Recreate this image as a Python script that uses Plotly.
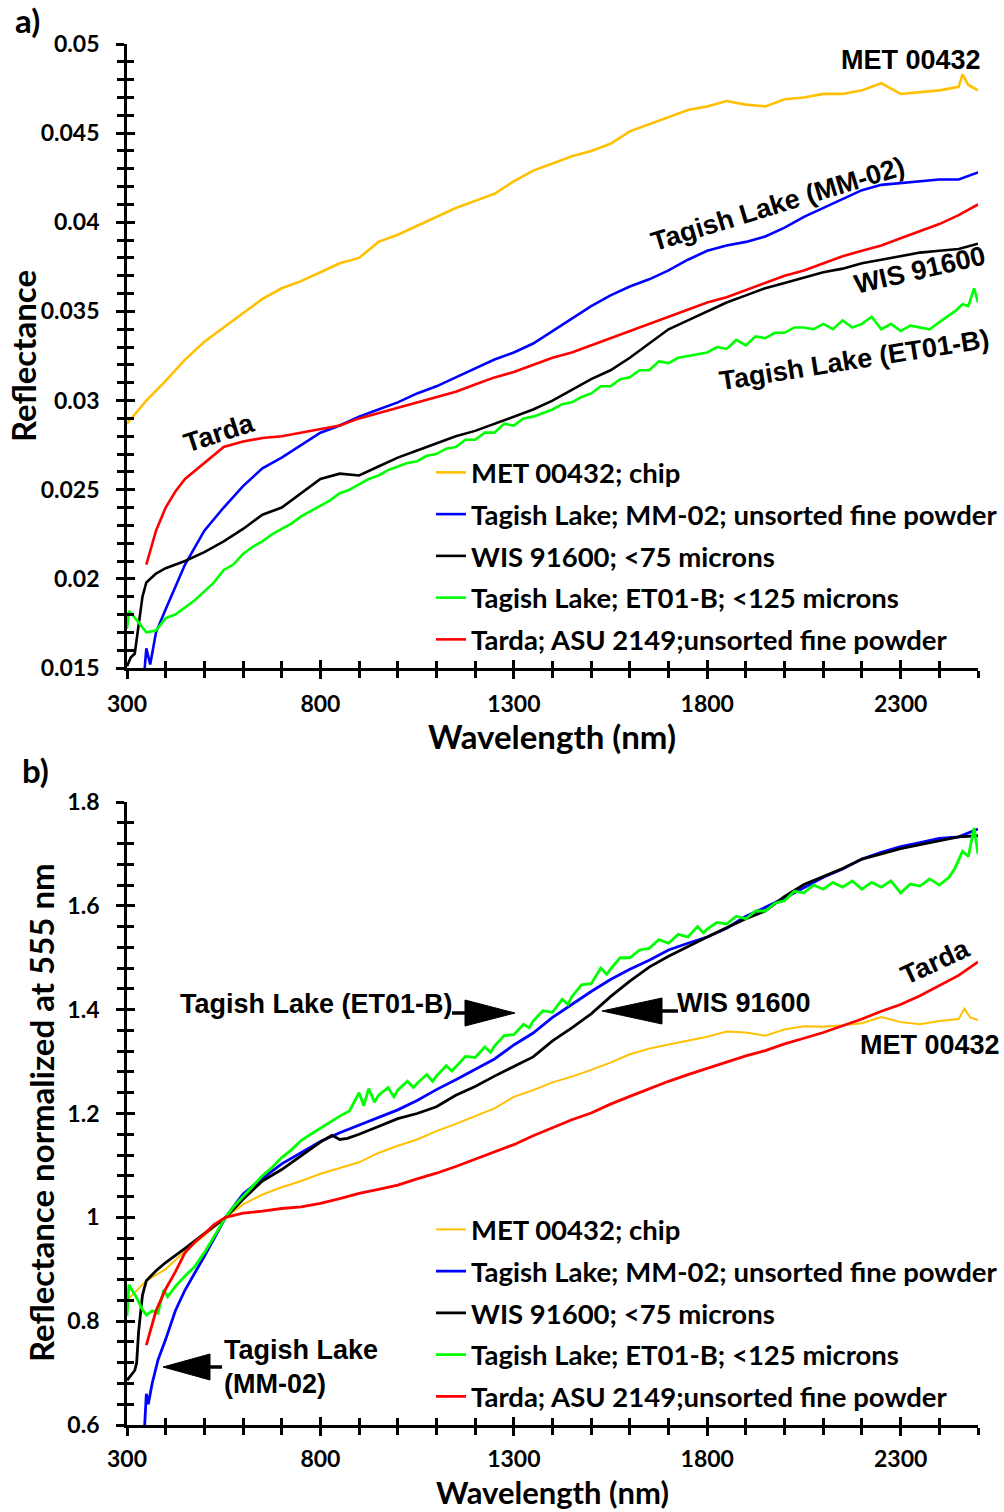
import plotly.graph_objects as go

# ---------------- DATA ----------------
# Panel a) absolute reflectance
met_wl = [300, 350, 400, 450, 500, 550, 600, 650, 700, 750, 800, 850, 900, 950, 1000, 1050, 1100, 1150, 1200,
          1250, 1300, 1350, 1400, 1450, 1500, 1550, 1600, 1650, 1700, 1750, 1800, 1850, 1900, 1950, 2000, 2050,
          2100, 2150, 2200, 2250, 2300, 2350, 2400, 2450, 2460, 2475, 2500]
met_a = [0.0287, 0.0300, 0.0311, 0.0323, 0.0333, 0.0341, 0.0349, 0.0357, 0.0363, 0.0367, 0.0372, 0.0377, 0.0380,
         0.0389, 0.0393, 0.0398, 0.0403, 0.0408, 0.0412, 0.0416, 0.0423, 0.0429, 0.0433, 0.0437, 0.0440, 0.0444,
         0.0451, 0.0455, 0.0459, 0.0463, 0.0465, 0.0468, 0.0466, 0.0465, 0.0469, 0.0470, 0.0472, 0.0472, 0.0474,
         0.0478, 0.0472, 0.0473, 0.0474, 0.0476, 0.0483, 0.0477, 0.0474]

mm02_wl = [345, 350, 360, 375, 400, 450, 500, 550, 600, 650, 700, 750, 800, 850, 900, 950, 1000, 1050, 1100, 1150,
           1200, 1250, 1300, 1350, 1400, 1450, 1500, 1550, 1600, 1650, 1700, 1750, 1800, 1850, 1900, 1950, 2000,
           2050, 2100, 2150, 2200, 2250, 2300, 2350, 2400, 2450, 2500]
mm02_a = [0.0148, 0.0161, 0.0152, 0.0170, 0.0183, 0.0208, 0.0227, 0.0240, 0.0252, 0.0262, 0.0268, 0.0275, 0.0282,
          0.0286, 0.0291, 0.0295, 0.0299, 0.0304, 0.0308, 0.0313, 0.0318, 0.0323, 0.0327, 0.0332, 0.0339, 0.0346,
          0.0353, 0.0359, 0.0364, 0.0368, 0.0373, 0.0379, 0.0384, 0.0387, 0.0389, 0.0392, 0.0397, 0.0403, 0.0408,
          0.0413, 0.0418, 0.0421, 0.0422, 0.0423, 0.0424, 0.0424, 0.0428]

wis_wl = [300, 310, 320, 330, 340, 350, 375, 400, 450, 500, 550, 600, 650, 700, 750, 800, 850, 900, 950, 1000, 1050,
          1100, 1150, 1200, 1250, 1300, 1350, 1400, 1450, 1500, 1550, 1600, 1650, 1700, 1750, 1800, 1850, 1900,
          1950, 2000, 2050, 2100, 2150, 2200, 2250, 2300, 2350, 2400, 2450, 2500]
wis_a = [0.0151, 0.0156, 0.0158, 0.0175, 0.0190, 0.0198, 0.0203, 0.0206, 0.0210, 0.0215, 0.0221, 0.0228, 0.0236,
         0.0240, 0.0248, 0.0256, 0.0259, 0.0258, 0.0263, 0.0268, 0.0272, 0.0276, 0.0280, 0.0283, 0.0287, 0.0291,
         0.0295, 0.0300, 0.0306, 0.0312, 0.0317, 0.0324, 0.0332, 0.0340, 0.0345, 0.0350, 0.0355, 0.0359, 0.0363,
         0.0366, 0.0369, 0.0372, 0.0374, 0.0377, 0.0379, 0.0381, 0.0383, 0.0384, 0.0385, 0.0388]

et01_wl = [300, 305, 325, 350, 375, 400, 425, 450, 475, 500, 525, 550, 575, 600, 625, 650, 675, 700, 725, 750, 775,
           800, 825, 850, 875, 900, 925, 950, 975, 1000, 1025, 1050, 1075, 1100, 1125, 1150, 1175, 1200, 1225, 1250,
           1275, 1300, 1325, 1350, 1375, 1400, 1425, 1450, 1475, 1500, 1525, 1550, 1575, 1600, 1625, 1650, 1675,
           1700, 1725, 1750, 1775, 1800, 1825, 1850, 1875, 1900, 1925, 1950, 1975, 2000, 2025, 2050, 2075, 2100,
           2125, 2150, 2175, 2200, 2225, 2250, 2275, 2300, 2325, 2350, 2375, 2400, 2425, 2440, 2460, 2475, 2490,
           2500]
et01_a = [0.0172, 0.0182, 0.0177, 0.0170, 0.0171, 0.0178, 0.0180, 0.0184, 0.0188, 0.0193, 0.0198, 0.0205, 0.0208,
          0.0214, 0.0218, 0.0221, 0.0225, 0.0228, 0.0231, 0.0235, 0.0238, 0.0241, 0.0244, 0.0248, 0.0250, 0.0253,
          0.0256, 0.0258, 0.0261, 0.0263, 0.0265, 0.0266, 0.0269, 0.0270, 0.0273, 0.0274, 0.0278, 0.0278, 0.0282,
          0.0282, 0.0287, 0.0286, 0.0290, 0.0291, 0.0293, 0.0295, 0.0298, 0.0299, 0.0302, 0.0304, 0.0308, 0.0308,
          0.0312, 0.0313, 0.0317, 0.0317, 0.0322, 0.0321, 0.0324, 0.0325, 0.0326, 0.0327, 0.0330, 0.0329, 0.0334,
          0.0331, 0.0336, 0.0335, 0.0338, 0.0338, 0.0341, 0.0341, 0.0340, 0.0343, 0.0340, 0.0345, 0.0341, 0.0343,
          0.0347, 0.0340, 0.0343, 0.0339, 0.0342, 0.0341, 0.0340, 0.0344, 0.0348, 0.0350, 0.0354, 0.0353, 0.0363,
          0.0355]

tarda_wl = [350, 375, 400, 425, 450, 500, 550, 600, 650, 700, 750, 800, 850, 900, 950, 1000, 1050, 1100, 1150, 1200,
            1250, 1300, 1350, 1400, 1450, 1500, 1550, 1600, 1650, 1700, 1750, 1800, 1850, 1900, 1950, 2000, 2050,
            2100, 2150, 2200, 2250, 2300, 2350, 2400, 2450, 2500]
tarda_a = [0.0208, 0.0227, 0.0240, 0.0249, 0.0256, 0.0265, 0.0274, 0.0277, 0.0279, 0.0280, 0.0282, 0.0284, 0.0286,
           0.0290, 0.0293, 0.0296, 0.0299, 0.0302, 0.0305, 0.0309, 0.0313, 0.0316, 0.0320, 0.0324, 0.0327, 0.0331,
           0.0335, 0.0339, 0.0343, 0.0347, 0.0351, 0.0355, 0.0358, 0.0362, 0.0366, 0.0370, 0.0373, 0.0377, 0.0381,
           0.0384, 0.0387, 0.0391, 0.0395, 0.0399, 0.0404, 0.0410]

# Panel b) reflectance normalized at 555 nm
met_b_wl = [300, 325, 350, 400, 450, 500, 555, 600, 650, 700, 750, 800, 850, 900, 950, 1000, 1050, 1100, 1150, 1200,
            1250, 1300, 1350, 1400, 1450, 1500, 1550, 1600, 1650, 1700, 1750, 1800, 1850, 1900, 1950, 2000, 2050,
            2100, 2150, 2200, 2250, 2300, 2350, 2400, 2450, 2465, 2480, 2500]
met_b = [0.840, 0.860, 0.878, 0.900, 0.935, 0.965, 1.000, 1.025, 1.044, 1.058, 1.070, 1.084, 1.095, 1.106, 1.124,
         1.138, 1.150, 1.166, 1.180, 1.195, 1.210, 1.232, 1.245, 1.260, 1.271, 1.284, 1.298, 1.314, 1.325, 1.333,
         1.340, 1.348, 1.358, 1.356, 1.350, 1.362, 1.368, 1.367, 1.370, 1.374, 1.386, 1.376, 1.372, 1.378, 1.382,
         1.402, 1.385, 1.380]

mm02_b_wl = [345, 350, 355, 365, 380, 400, 425, 450, 500, 555, 600, 650, 700, 750, 800, 850, 900, 950, 1000, 1050,
             1100, 1150, 1200, 1250, 1300, 1350, 1400, 1450, 1500, 1550, 1600, 1650, 1700, 1750, 1800, 1850, 1900,
             1950, 2000, 2050, 2100, 2150, 2200, 2250, 2300, 2350, 2400, 2450, 2500]
mm02_b = [0.59, 0.66, 0.64, 0.68, 0.725, 0.765, 0.82, 0.86, 0.925, 1.0, 1.045, 1.075, 1.103, 1.125, 1.146, 1.163,
          1.178, 1.192, 1.207, 1.225, 1.246, 1.265, 1.285, 1.305, 1.332, 1.355, 1.385, 1.410, 1.435, 1.458, 1.478,
          1.495, 1.515, 1.528, 1.540, 1.557, 1.580, 1.597, 1.615, 1.635, 1.655, 1.671, 1.690, 1.703, 1.714, 1.722,
          1.730, 1.733, 1.748]

wis_b_wl = [300, 310, 320, 325, 330, 340, 350, 375, 400, 450, 500, 555, 600, 650, 700, 750, 800, 830, 850, 870, 900,
            950, 1000, 1050, 1100, 1150, 1200, 1250, 1300, 1350, 1400, 1450, 1500, 1550, 1600, 1650, 1700, 1750,
            1800, 1850, 1900, 1950, 2000, 2050, 2100, 2150, 2200, 2250, 2300, 2350, 2400, 2450, 2500]
wis_b = [0.686, 0.695, 0.705, 0.72, 0.78, 0.85, 0.878, 0.897, 0.913, 0.940, 0.968, 1.0, 1.035, 1.07, 1.092, 1.118,
         1.145, 1.158, 1.150, 1.152, 1.160, 1.175, 1.190, 1.200, 1.213, 1.235, 1.252, 1.272, 1.290, 1.309, 1.340,
         1.365, 1.392, 1.425, 1.455, 1.482, 1.503, 1.522, 1.540, 1.558, 1.575, 1.590, 1.618, 1.641, 1.657, 1.672,
         1.690, 1.700, 1.710, 1.718, 1.725, 1.733, 1.735]

et01_b_wl = [300, 305, 325, 340, 350, 365, 380, 395, 405, 425, 450, 475, 500, 525, 555, 575, 600, 625, 650, 675, 700,
             725, 750, 775, 800, 825, 850, 875, 900, 912, 925, 940, 950, 975, 990, 1000, 1025, 1040, 1050, 1075, 1090,
             1100, 1125, 1140, 1150, 1175, 1200, 1225, 1240, 1250, 1275, 1300, 1325, 1340, 1350, 1375, 1400, 1425,
             1440, 1450, 1475, 1500, 1525, 1540, 1550, 1575, 1600, 1625, 1650, 1675, 1700, 1725, 1750, 1775, 1790,
             1800, 1825, 1850, 1875, 1900, 1925, 1950, 1975, 2000, 2025, 2050, 2075, 2100, 2125, 2150, 2175, 2200,
             2225, 2250, 2275, 2300, 2325, 2350, 2375, 2400, 2425, 2440, 2460, 2475, 2490, 2500]
et01_b = [0.81, 0.87, 0.845, 0.822, 0.812, 0.82, 0.815, 0.86, 0.847, 0.867, 0.887, 0.905, 0.932, 0.962, 1.0, 1.02,
          1.04, 1.06, 1.08, 1.096, 1.115, 1.13, 1.148, 1.16, 1.172, 1.183, 1.195, 1.205, 1.24, 1.215, 1.248, 1.222,
          1.235, 1.25, 1.232, 1.245, 1.262, 1.25, 1.258, 1.275, 1.262, 1.272, 1.292, 1.282, 1.29, 1.31, 1.308,
          1.328, 1.318, 1.33, 1.35, 1.352, 1.372, 1.365, 1.378, 1.398, 1.395, 1.42, 1.41, 1.425, 1.448, 1.45, 1.48,
          1.468, 1.478, 1.5, 1.5, 1.515, 1.518, 1.535, 1.528, 1.545, 1.54, 1.56, 1.548, 1.555, 1.568, 1.565, 1.58,
          1.575, 1.59, 1.59, 1.605, 1.61, 1.628, 1.625, 1.64, 1.632, 1.645, 1.636, 1.648, 1.632, 1.645, 1.636, 1.648,
          1.625, 1.642, 1.638, 1.652, 1.64, 1.655, 1.672, 1.705, 1.695, 1.75, 1.70]

tarda_b_wl = [350, 360, 375, 400, 425, 450, 475, 500, 525, 555, 600, 650, 700, 750, 800, 850, 900, 950, 1000, 1050,
              1100, 1150, 1200, 1250, 1300, 1350, 1400, 1450, 1500, 1550, 1600, 1650, 1700, 1750, 1800, 1850, 1900,
              1950, 2000, 2050, 2100, 2150, 2200, 2250, 2300, 2350, 2400, 2450, 2500]
tarda_b = [0.754, 0.78, 0.82, 0.862, 0.895, 0.932, 0.952, 0.968, 0.986, 1.0, 1.008, 1.012, 1.017, 1.020, 1.027,
           1.036, 1.046, 1.054, 1.062, 1.074, 1.085, 1.098, 1.112, 1.126, 1.140, 1.157, 1.173, 1.188, 1.201, 1.218,
           1.233, 1.248, 1.262, 1.275, 1.287, 1.299, 1.311, 1.321, 1.334, 1.345, 1.356, 1.369, 1.382, 1.397, 1.410,
           1.427, 1.446, 1.466, 1.492]

series_names = ["MET 00432; chip",
                "Tagish Lake; MM-02; unsorted fine powder",
                "WIS 91600; <75 microns",
                "Tagish Lake; ET01-B; <125 microns",
                "Tarda; ASU 2149;unsorted fine powder"]
series_colors = ["#FFC000", "#0000FF", "#000000", "#00FF00", "#FF0000"]

x_tickvals = [300, 800, 1300, 1800, 2300]
x_ticktext = ["300", "800", "1300", "1800", "2300"]
ya_tickvals = [0.015, 0.02, 0.025, 0.03, 0.035, 0.04, 0.045, 0.05]
ya_ticktext = ["0.015", "0.02", "0.025", "0.03", "0.035", "0.04", "0.045", "0.05"]
yb_tickvals = [0.6, 0.8, 1.0, 1.2, 1.4, 1.6, 1.8]
yb_ticktext = ["0.6", "0.8", "1", "1.2", "1.4", "1.6", "1.8"]

# ---------------- LAYOUT HELPERS ----------------
W, H = 1004, 1512


def px(x):
    return x / W


def py(y):
    return 1 - y / H


TICKFONT = dict(family="Lato", size=23, color="black", weight="bold")
LEGFONT = dict(family="Lato", size=27.5, color="black", weight="bold")
LABFONT = dict(family="Liberation Sans", size=27, color="black", weight="bold")
TITLEFONT = dict(family="Lato", size=33, color="black", weight="bold")
XTITLEFONT = dict(family="Lato", size=31, color="black", weight="bold")

fig = go.Figure()

panel_a = [(met_wl, met_a), (mm02_wl, mm02_a), (wis_wl, wis_a), (et01_wl, et01_a), (tarda_wl, tarda_a)]
panel_b = [(met_b_wl, met_b), (mm02_b_wl, mm02_b), (wis_b_wl, wis_b), (et01_b_wl, et01_b), (tarda_b_wl, tarda_b)]

for i, (wl, v) in enumerate(panel_a):
    fig.add_trace(go.Scatter(x=wl, y=v, mode="lines", name=series_names[i],
                             line=dict(color=series_colors[i], width=2.6),
                             xaxis="x", yaxis="y", legend="legend", legendgroup="a%d" % i))
for i, (wl, v) in enumerate(panel_b):
    fig.add_trace(go.Scatter(x=wl, y=v, mode="lines", name=series_names[i],
                             line=dict(color=series_colors[i], width=2.0 if i == 0 else 2.8),
                             xaxis="x2", yaxis="y2", legend="legend2", legendgroup="b%d" % i))

# empty traces to realise overlay axes that carry the inner half of the crossing ticks
fig.add_trace(go.Scatter(x=[], y=[], xaxis="x3", yaxis="y3", showlegend=False, hoverinfo="skip"))
fig.add_trace(go.Scatter(x=[], y=[], xaxis="x4", yaxis="y4", showlegend=False, hoverinfo="skip"))

xdom = [px(127), px(978)]
ydom_a = [py(668), py(44)]
ydom_b = [py(1425), py(802)]


def xaxis_cfg(inner=False, standoff=5):
    d = dict(range=[300, 2500], tickmode="array", tickvals=x_tickvals, ticktext=x_ticktext,
             ticks="inside" if inner else "outside", ticklen=8, tickwidth=2.5, tickcolor="black",
             showgrid=False, zeroline=False, tickfont=TICKFONT, ticklabelstandoff=standoff, automargin=False,
             minor=dict(tickmode="linear", tick0=300, dtick=100, ticks="inside" if inner else "outside",
                        ticklen=7, tickwidth=2.5, tickcolor="black", showgrid=False))
    if inner:
        d.update(showline=False, showticklabels=False)
    else:
        d.update(showline=True, linecolor="black", linewidth=2.8)
    return d


def yaxis_cfg(rng, tv, tt, mdt, inner=False):
    d = dict(range=rng, tickmode="array", tickvals=tv, ticktext=tt,
             ticks="inside" if inner else "outside", ticklen=8, tickwidth=2.5, tickcolor="black",
             showgrid=False, zeroline=False, tickfont=TICKFONT, ticklabelstandoff=12, automargin=False,
             minor=dict(tickmode="linear", tick0=rng[0], dtick=mdt, ticks="inside" if inner else "outside",
                        ticklen=7, tickwidth=2.5, tickcolor="black", showgrid=False))
    if inner:
        d.update(showline=False, showticklabels=False)
    else:
        d.update(showline=True, linecolor="black", linewidth=2.8)
    return d


fig.update_layout(
    width=W, height=H, margin=dict(l=0, r=0, t=0, b=0, autoexpand=False),
    paper_bgcolor="white", plot_bgcolor="white",
    xaxis=dict(domain=xdom, anchor="y", **xaxis_cfg()),
    yaxis=dict(domain=ydom_a, anchor="x", **yaxis_cfg([0.015, 0.05], ya_tickvals, ya_ticktext, 0.001)),
    xaxis2=dict(domain=xdom, anchor="y2", **xaxis_cfg(standoff=3)),
    yaxis2=dict(domain=ydom_b, anchor="x2", **yaxis_cfg([0.6, 1.8], yb_tickvals, yb_ticktext, 0.04)),
    xaxis3=dict(overlaying="x", anchor="y3", **xaxis_cfg(True)),
    yaxis3=dict(overlaying="y", anchor="x3", **yaxis_cfg([0.015, 0.05], ya_tickvals, ya_ticktext, 0.001, True)),
    xaxis4=dict(overlaying="x2", anchor="y4", **xaxis_cfg(True)),
    yaxis4=dict(overlaying="y2", anchor="x4", **yaxis_cfg([0.6, 1.8], yb_tickvals, yb_ticktext, 0.04, True)),
    legend=dict(x=px(431), y=py(448), xanchor="left", yanchor="top", bgcolor="rgba(0,0,0,0)",
                font=LEGFONT, itemwidth=30, tracegroupgap=3, traceorder="grouped"),
    legend2=dict(x=px(431), y=py(1205), xanchor="left", yanchor="top", bgcolor="rgba(0,0,0,0)",
                 font=LEGFONT, itemwidth=30, tracegroupgap=3, traceorder="grouped"),
    showlegend=True,
)

ann = []


def txt(x, y, s, font, angle=0, xa="center"):
    ann.append(dict(x=px(x), y=py(y), xref="paper", yref="paper", text=s, showarrow=False,
                    font=font, textangle=angle, xanchor=xa, yanchor="middle"))


txt(27, 20, "a)", TITLEFONT)
txt(35, 770, "b)", TITLEFONT)
txt(552, 736, "Wavelength (nm)", TITLEFONT)
txt(552, 1492, "Wavelength (nm)", XTITLEFONT)
txt(23, 356, "Reflectance", TITLEFONT, angle=-90)
txt(41, 1113, "Reflectance normalized at 555 nm", TITLEFONT, angle=-90)

# curve labels panel a
txt(911, 60, "MET 00432", LABFONT)
txt(778, 204, "Tagish Lake (MM-02)", LABFONT, angle=-17)
txt(920, 270, "WIS 91600", LABFONT, angle=-13)
txt(854, 360, "Tagish Lake (ET01-B)", LABFONT, angle=-9)
txt(219, 433, "Tarda", LABFONT, angle=-18)
# curve labels panel b
txt(316, 1004, "Tagish Lake (ET01-B)", LABFONT)
txt(744, 1003, "WIS 91600", LABFONT)
txt(935, 962, "Tarda", LABFONT, angle=-25)
txt(930, 1045, "MET 00432", LABFONT)
txt(222, 1350, "Tagish Lake", LABFONT, xa="left")
txt(222, 1384, "(MM-02)", LABFONT, xa="left")
fig.update_layout(annotations=ann)

# arrows (pointer decorations)
shapes = []


def arrow(stem_x0, stem_x1, base_x, tip_x, ymid, half=13):
    shapes.append(dict(type="line", xref="paper", yref="paper", x0=px(stem_x0), x1=px(stem_x1),
                       y0=py(ymid), y1=py(ymid), line=dict(color="black", width=3.5)))
    path = "M %f %f L %f %f L %f %f Z" % (px(base_x), py(ymid - half), px(base_x), py(ymid + half),
                                          px(tip_x), py(ymid))
    shapes.append(dict(type="path", xref="paper", yref="paper", path=path,
                       fillcolor="black", line=dict(color="black", width=1)))


arrow(452, 468, 465, 515, 1013)
arrow(662, 678, 662, 602, 1011)
arrow(208, 222, 210, 163, 1367)
fig.update_layout(shapes=shapes)

fig.write_html("out.html")
